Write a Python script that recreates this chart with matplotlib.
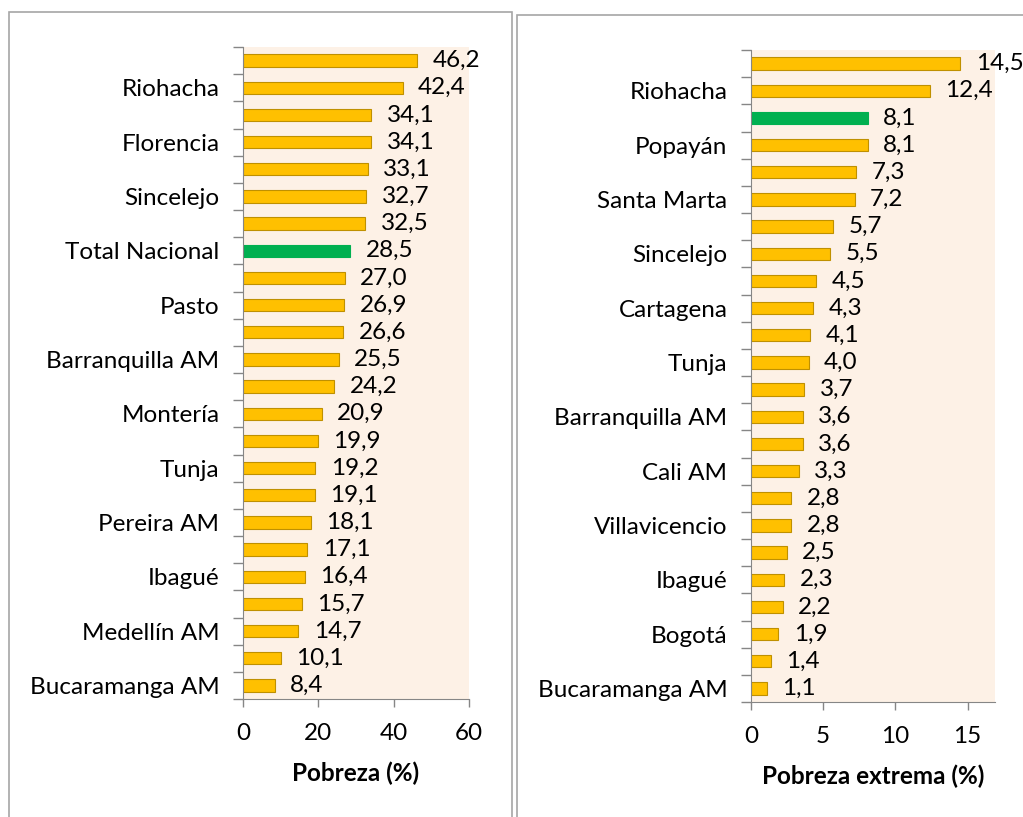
import matplotlib.pyplot as plt
from matplotlib.patches import Rectangle
import numpy as np

plt.rcParams['font.family'] = ['Lato', 'DejaVu Sans']

# left panel: Pobreza (%) - top to bottom
pob_labels = ['', 'Riohacha', '', 'Florencia', '', 'Sincelejo', '', 'Total Nacional',
              '', 'Pasto', '', 'Barranquilla AM', '', 'Montería', '', 'Tunja',
              '', 'Pereira AM', '', 'Ibagué', '', 'Medellín AM', '', 'Bucaramanga AM']
pob_values = [46.2, 42.4, 34.1, 34.1, 33.1, 32.7, 32.5, 28.5, 27.0, 26.9, 26.6, 25.5,
              24.2, 20.9, 19.9, 19.2, 19.1, 18.1, 17.1, 16.4, 15.7, 14.7, 10.1, 8.4]
pob_highlight = 7

# right panel: Pobreza extrema (%)
ext_labels = ['', 'Riohacha', '', 'Popayán', '', 'Santa Marta', '', 'Sincelejo',
              '', 'Cartagena', '', 'Tunja', '', 'Barranquilla AM', '', 'Cali AM',
              '', 'Villavicencio', '', 'Ibagué', '', 'Bogotá', '', 'Bucaramanga AM']
ext_values = [14.5, 12.4, 8.1, 8.1, 7.3, 7.2, 5.7, 5.5, 4.5, 4.3, 4.1, 4.0, 3.7, 3.6,
              3.6, 3.3, 2.8, 2.8, 2.5, 2.3, 2.2, 1.9, 1.4, 1.1]
ext_highlight = 2

W, H = 1023, 817
fs = 17.5
fig = plt.figure(figsize=(W / 100, H / 100), dpi=100)

# panel frames
fig.patches.append(Rectangle((9 / W, -0.01), (512 - 9) / W, 1 - 12 / H + 0.01,
                             transform=fig.transFigure, fill=False, ec='#a6a6a6', lw=1.2))
fig.patches.append(Rectangle((517 / W, -0.01), 0.5, 1 - 15 / H + 0.01,
                             transform=fig.transFigure, fill=False, ec='#a6a6a6', lw=1.2))


def panel(rect, labels, values, hl, xlim, xticks, xlabel):
    ax = fig.add_axes([rect[0] / W, 1 - rect[3] / H, (rect[2] - rect[0]) / W, (rect[3] - rect[1]) / H])
    n = len(values)
    y = np.arange(n)
    colors = ['#ffc000'] * n
    edges = ['#bf9000'] * n
    colors[hl] = '#00b050'
    edges[hl] = '#00b050'
    ax.barh(y, values, height=0.45, color=colors, edgecolor=edges, lw=0.8)
    for yi, v in zip(y, values):
        ax.annotate(f'{v:.1f}'.replace('.', ','), (v, yi), xytext=(11, 0),
                    textcoords='offset points', va='center', ha='left', fontsize=fs)
    ax.set_facecolor('#fdf1e6')
    ax.set_xlim(*xlim)
    ax.set_ylim(n - 0.5, -0.5)
    ax.set_xticks(xticks)
    ax.set_yticks(y)
    ax.set_yticklabels(labels, fontsize=fs)
    ax.set_yticks(np.arange(n + 1) - 0.5, minor=True)
    ax.tick_params(axis='y', which='major', length=0, pad=17)
    ax.tick_params(axis='y', which='minor', length=7, color='#868686', width=1)
    ax.tick_params(axis='x', length=6, color='#868686', width=1, labelsize=fs, pad=11)
    for s in ['top', 'right']:
        ax.spines[s].set_visible(False)
    for s in ['left', 'bottom']:
        ax.spines[s].set_color('#868686')
    ax.set_xlabel(xlabel, fontsize=17.5, fontweight='bold', labelpad=13)
    return ax


panel((243, 47, 469, 699), pob_labels, pob_values, pob_highlight, (0, 60), [0, 20, 40, 60], 'Pobreza (%)')
panel((751, 50, 995, 702), ext_labels, ext_values, ext_highlight, (0, 16.9), [0, 5, 10, 15], 'Pobreza extrema (%)')

fig.savefig('out.png', dpi=100)
